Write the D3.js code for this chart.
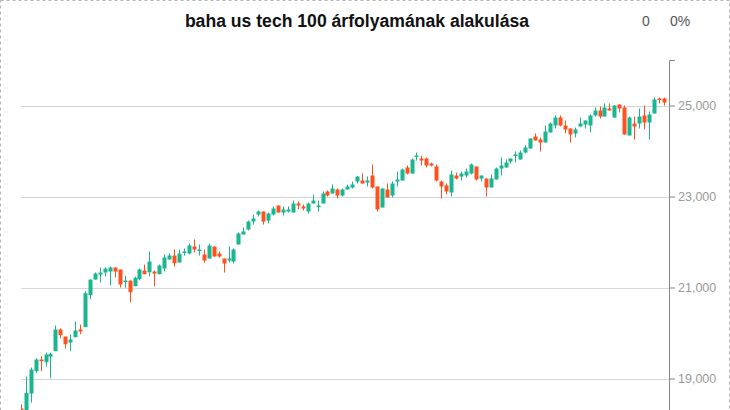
<!DOCTYPE html>
<html>
<head>
<meta charset="utf-8">
<script src="https://cdn.jsdelivr.net/npm/d3@7"></script>
<style>
  html, body { margin: 0; padding: 0; background: #fff; overflow: hidden; }
  svg { display: block; }
</style>
</head>
<body>
<script>
// ---- data ----
const title = "baha us tech 100 árfolyamának alakulása";
const changeValue = "0";
const changePct = "0%";
const days = d3.range(1, 132);
const open = [18340,18300,18670,19160,19417,19358,19483,19602,20077,19923,19791,19908,20077,20129,20830,21175,21285,21329,21351,21439,21395,21131,21153,21029,21183,21373,21336,21351,21292,21417,21615,21703,21549,21769,21747,21901,21813,21725,21637,21901,21747,21637,21593,21571,21945,22165,22275,22450,22604,22670,22472,22604,22802,22648,22670,22648,22846,22780,22670,22846,22780,22846,23110,23066,23154,23022,23154,23198,23330,23352,23308,23461,23220,22758,23154,23022,23330,23352,23637,23505,23879,23835,23835,23725,23659,23330,23242,23088,23461,23439,23461,23505,23659,23395,23395,23198,23374,23615,23637,23769,23901,23813,23967,24055,24319,24253,24187,24407,24560,24736,24560,24494,24385,24538,24582,24560,24780,24890,24758,24934,24736,25022,24956,24341,24604,24604,24780,24626,24824,25154,25154];
const high = [18430,19043,19241,19446,19490,19571,19571,20164,20099,19923,19967,20252,20186,20918,21175,21329,21439,21439,21461,21439,21395,21258,21153,21241,21417,21505,21791,21373,21505,21725,21747,21835,21835,21857,21967,22055,21945,21835,21967,21901,21791,21637,21901,21857,22209,22319,22472,22604,22692,22670,22648,22780,22802,22780,22780,22912,22890,22824,22868,23044,22912,23110,23132,23264,23176,23176,23264,23330,23440,23505,23440,23703,23220,23176,23286,23330,23549,23615,23681,23835,23967,23901,23857,23747,23703,23352,23286,23571,23527,23549,23615,23725,23659,23461,23395,23483,23637,23857,23813,23835,23989,24011,24121,24275,24385,24297,24560,24626,24780,24780,24670,24494,24516,24736,24670,24802,24956,24978,25044,25044,25000,25022,25000,24758,24758,24934,25000,24868,25176,25176,25176];
const low = [18150,18250,18472,19118,19160,19263,19006,19602,19879,19659,19602,19908,19974,20129,20745,21175,21110,21241,21044,21219,21000,20995,20679,21029,21161,21292,21245,21029,21292,21351,21615,21461,21549,21703,21725,21769,21703,21549,21637,21681,21659,21329,21549,21527,21945,22165,22253,22384,22560,22384,22406,22582,22648,22582,22648,22648,22714,22692,22626,22846,22670,22846,23000,23066,22956,23000,23154,23176,23286,23286,23220,23176,22670,22758,22978,22978,23220,23352,23483,23505,23791,23681,23637,23659,23330,22956,23044,23000,23374,23352,23417,23483,23352,23330,23000,23198,23374,23461,23637,23725,23747,23813,23945,24055,24231,23989,24187,24407,24494,24538,24385,24187,24297,24538,24494,24407,24758,24714,24758,24890,24736,24846,24363,24341,24253,24494,24473,24253,24824,25044,25000];
const close = [18200,18685,19197,19417,19380,19527,19542,20077,19952,19754,19857,20055,20033,20874,21175,21307,21329,21417,21439,21351,21066,21153,20896,21214,21395,21292,21571,21307,21483,21659,21703,21534,21747,21791,21923,21835,21835,21593,21923,21681,21681,21527,21637,21835,22187,22231,22450,22516,22670,22450,22626,22736,22648,22714,22714,22846,22802,22736,22846,22912,22802,23066,23022,23176,23022,23154,23220,23264,23440,23286,23352,23198,22714,23176,22978,23286,23374,23593,23505,23813,23901,23791,23681,23681,23352,23220,23110,23483,23395,23505,23549,23703,23374,23461,23198,23395,23615,23681,23747,23835,23923,23967,24077,24275,24231,24187,24429,24604,24736,24560,24472,24363,24472,24604,24670,24780,24890,24758,24956,24890,25000,24934,24363,24736,24538,24758,24626,24802,25132,25132,25066];
const yTicks = [19000, 21000, 23000, 25000];

// ---- styles ----
const W = 730, H = 440;
const upColor = "#19b68f", downColor = "#fd5220";
const plotL = 21, plotR = 669, plotT = 60, plotB = 424;

const svg = d3.select("body").append("svg").attr("width", W).attr("height", H);

svg.append("rect").attr("x", 0.5).attr("y", 0.5).attr("width", W - 1).attr("height", H + 20)
  .attr("fill", "none").attr("stroke", "#b5b5b5").attr("stroke-dasharray", "3,3");

svg.append("text").attr("x", 357).attr("y", 27).attr("text-anchor", "middle")
  .attr("font-family", "'Liberation Sans', Arial, sans-serif").attr("font-weight", "bold")
  .attr("font-size", "17.6px").attr("fill", "#111").text(title);
svg.append("text").attr("x", 646).attr("y", 26).attr("text-anchor", "middle")
  .attr("font-family", "'Liberation Sans', Arial, sans-serif").attr("font-size", "14px")
  .attr("fill", "#555").text(changeValue);
svg.append("text").attr("x", 670).attr("y", 26)
  .attr("font-family", "'Liberation Sans', Arial, sans-serif").attr("font-size", "14px")
  .attr("fill", "#555").text(changePct);

const y = d3.scaleLinear().domain([18000, 26000]).range([plotB, plotT]);
const x = d3.scaleBand().domain(days).range([18.8, 666.8]).paddingInner(0.2).paddingOuter(0.1);

// grid
svg.append("g").selectAll("line").data(yTicks).join("line")
  .attr("x1", plotL).attr("x2", plotR)
  .attr("y1", d => Math.round(y(d)) + 0.5).attr("y2", d => Math.round(y(d)) + 0.5)
  .attr("stroke", "#d6d6d6").attr("stroke-width", 1);

svg.append("defs").append("clipPath").attr("id", "clip")
  .append("rect").attr("x", plotL).attr("y", plotT).attr("width", plotR - plotL).attr("height", plotB - plotT);

const data = days.map((d, i) => ({ d, o: open[i], h: high[i], l: low[i], c: close[i] }));
const g = svg.append("g").attr("clip-path", "url(#clip)");
const cx = d => x(d.d) + x.bandwidth() / 2;
const col = d => d.c >= d.o ? upColor : downColor;

g.selectAll("line.wick").data(data).join("line").attr("class", "wick")
  .attr("x1", d => Math.floor(cx(d)) + 0.5).attr("x2", d => Math.floor(cx(d)) + 0.5)
  .attr("y1", d => y(d.h)).attr("y2", d => y(d.l))
  .attr("stroke", col).attr("stroke-width", 1);

g.selectAll("rect.body").data(data).join("rect").attr("class", "body")
  .attr("x", d => Math.floor(cx(d)) - 1.5)
  .attr("width", 4)
  .attr("y", d => y(Math.max(d.o, d.c)))
  .attr("height", d => Math.max(1.5, Math.abs(y(d.o) - y(d.c))))
  .attr("fill", col);

// axis
const axis = d3.axisRight(y).tickValues(yTicks).tickSize(6).tickSizeOuter(6).tickPadding(3)
  .tickFormat(d3.format(","));
const ax = svg.append("g").attr("transform", `translate(${plotR},0)`).call(axis);
ax.select(".domain").attr("stroke", "#888");
ax.selectAll(".tick line").attr("stroke", "#888");
ax.selectAll(".tick text").attr("fill", "#9a9a9a")
  .attr("font-family", "'Liberation Sans', Arial, sans-serif").attr("font-size", "12.5px");
</script>
</body>
</html>
